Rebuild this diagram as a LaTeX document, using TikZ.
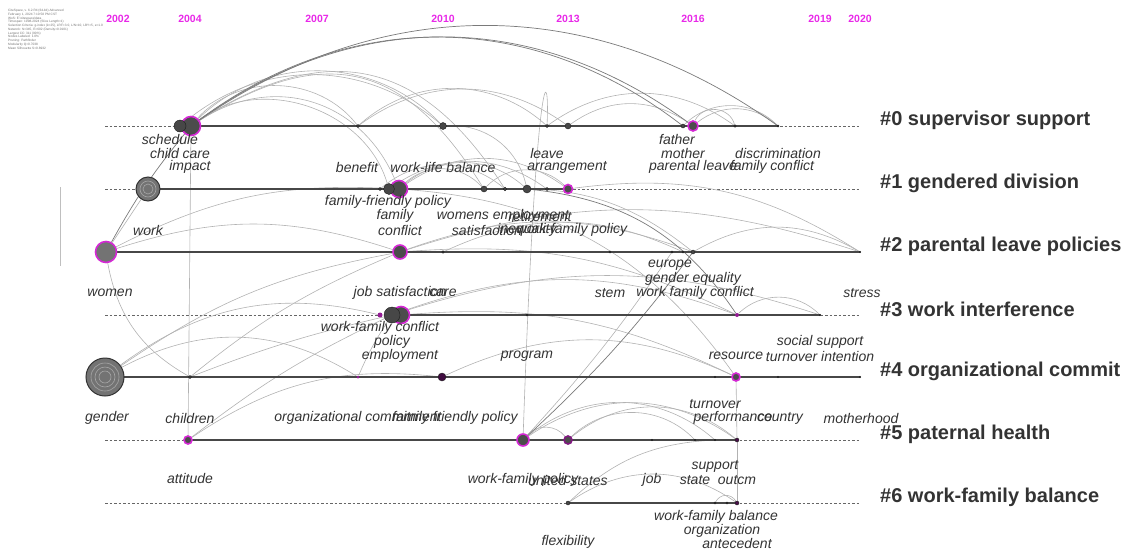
\documentclass[tikz,border=0pt]{standalone}
\usepackage{fontspec}
\setmainfont{Liberation Sans}
\usetikzlibrary{positioning,backgrounds}
\definecolor{hot}{RGB}{212,40,212}
\definecolor{yearc}{RGB}{232,40,232}
\definecolor{ink}{RGB}{51,51,51}
\tikzset{
  kw/.style={circle,inner sep=0pt,minimum size=#1,fill=black!72,draw=black!88,line width=0.4pt},
  hotkw/.style={circle,inner sep=0pt,minimum size=#1,fill=black!70,draw=hot,line width=1.6pt},
  hotdot/.style={circle,inner sep=0pt,minimum size=#1,fill=hot!70!black},
  ringkw/.style={circle,inner sep=0pt,minimum size=#1,fill=black!55,draw=black!80,line width=1pt},
  term/.style={font=\fontsize{14}{14}\selectfont\itshape,text=ink,inner sep=0pt},
  clus/.style={font=\fontsize{20}{20}\selectfont\bfseries,text=ink,anchor=west,inner sep=0pt},
  yr/.style={font=\fontsize{10.5}{10.5}\selectfont\bfseries,text=yearc,inner sep=0pt},
  lnk/.style={draw=black!30,line width=0.6pt},
  lnkd/.style={draw=black!52,line width=0.7pt},
  axis/.style={draw=black!60,dash pattern=on 2.5pt off 2pt,line width=0.6pt},
  span/.style={draw=black!72,line width=2.2pt}
}
\begin{document}
\begin{tikzpicture}[x=1pt,y=-1pt]
\useasboundingbox (0,0) rectangle (1126,549);
% header block
\node[anchor=north west,align=left,inner sep=0pt,text=black!55,font=\fontsize{3.2}{3.75}\selectfont] (info) at (8,9)
  {CiteSpace, v. 6.2.R4 (64-bit) Advanced\\February 1, 2024 7:10:58 PM CST\\WoS: E:\textbackslash citespace\textbackslash data\\Timespan: 1998-2024 (Slice Length=1)\\Selection Criteria: g-index (k=25), LRF=3.0, L/N=10, LBY=5, e=1.0\\Network: N=345, E=602 (Density=0.0101)\\Largest CC: 311 (90\%)\\Nodes Labeled: 1.0\%\\Pruning: Pathfinder\\Modularity Q=0.7038\\Mean Silhouette S=0.8932};
% years
\foreach \yr/\x in {2002/118,2004/190,2007/317,2010/443,2013/568,2016/693,2019/820,2020/860}{
  \node[yr] (y\yr) at (\x,19) {\yr};
}
% clusters
\foreach \r/\y/\t in {0/126/supervisor support,1/189/gendered division,2/252/parental leave policies,3/315/work interference,4/377/organizational commit,5/440/paternal health,6/503/work-family balance}{
  \coordinate (L\r) at (105,\y);
  \coordinate (R\r) at (860,\y);
  \node[clus] (C\r) at (880,\y-6) {\#\r\ \t};
}
% row 0
\node[hotkw=19] (impact) at (191,126) {};
\node[kw=12] (sched) at (180,126) {};
\node[kw=3] (benefit) at (358,126) {};
\node[kw=7] (wlb) at (443,126) {};
\node[kw=3] (leave) at (547,126) {};
\node[kw=6] (arrang) at (568,126) {};
\node[kw=4] (father) at (683,126) {};
\node[hotkw=10] (mother) at (693,126) {};
\node[kw=2.5] (parlv) at (735,126) {};
\node[kw=2] (discr) at (778,126) {};
% row 1
\node[ringkw=24] (work) at (148,189) {};
\node[kw=3] (nfam) at (380,189) {};
\node[hotkw=17] (famc) at (399,189) {};
\node[kw=11] (ffp) at (389,189) {};
\node[kw=6] (womsat) at (484,189) {};
\node[kw=3.5] (womemp) at (505,189) {};
\node[kw=8] (ineq) at (527,189) {};
\node[kw=3] (retire) at (547,189) {};
\node[hotkw=9] (wfpola) at (568,189) {};
% row 2
\node[hotkw=21,fill=black!55] (women) at (106,252) {};
\node[hotkw=14] (jobsat) at (400,252) {};
\node[kw=2.5] (care) at (443,252) {};
\node[kw=2] (stem) at (610,252) {};
\node[kw=2] (europe) at (672,252) {};
\node[kw=2] (gequal) at (683,252) {};
\node[kw=4] (wfconf) at (693,252) {};
\node[kw=1.5] (stress) at (860,252) {};
% row 3
\node[hotdot=5] (wfc) at (380,315) {};
\node[hotkw=17] (employ) at (401,315) {};
\node[kw=16] (policy) at (392,315) {};
\node[kw=2] (program) at (527,315) {};
\node[hotdot=4] (resource) at (737,315) {};
\node[kw=1.5] (turnint) at (820,315) {};
% row 4
\node[ringkw=38] (gender) at (105,377) {};
\node[kw=3] (children) at (190,377) {};
\node[hotdot=3] (orgcom) at (358,377) {};
\node[kw=8,fill=hot!30!black] (famfr) at (442,377) {};
\node[kw=1.5] (turnover) at (715,377) {};
\node[hotkw=8] (perf) at (736,377) {};
\node[kw=1.5] (country) at (778,377) {};
\node[kw=1.5] (mhood) at (860,377) {};
% row 5
\node[hotkw=8] (attitude) at (188,440) {};
\node[hotkw=12] (wfpol) at (523,440) {};
\node[hotkw=8,draw=hot!60!black] (ustates) at (568,440) {};
\node[kw=1.5] (job) at (652,440) {};
\node[kw=1.5] (state) at (695,440) {};
\node[kw=1.5] (support) at (715,440) {};
\node[kw=4,fill=hot!35!black] (outcome) at (737,440) {};
% row 6
\node[kw=4] (flex) at (568,503) {};
\node[kw=2] (wfbal) at (715,503) {};
\node[kw=2] (organiz) at (727,503) {};
\node[kw=4,fill=hot!35!black] (antec) at (737,503) {};
% rings inside the two large grey nodes
\foreach \r in {6,10,14}{\draw[black!35,line width=0.6pt] (gender.center) circle (\r);}
\foreach \r in {5,8}{\draw[black!35,line width=0.6pt] (work.center) circle (\r);}
% terms
\foreach \x/\y/\t in {170/139/schedule,180/153/child care,190/167/impact,357/167/benefit,443/167/work-life balance,
  547/153/leave,567/167/arrangement,677/139/father,683/153/mother,693/167/parental leave,778/153/discrimination,772/167/family conflict,
  388/202/family-friendly policy,395/216/family,400/230/conflict,148/230/work,503/216/womens employment,540/216/retirement,
  487/230/satisfaction,527/230/inequality,572/230/work-family policy,
  110/293/women,400/293/job satisfaction,443/293/care,610/293/stem,670/265/europe,693/279/gender equality,695/293/work family conflict,862/293/stress,
  380/328/work-family conflict,392/342/policy,400/356/employment,527/356/program,736/356/resource,820/342/social support,820/356/turnover intention,
  107/418/gender,190/418/children,358/418/organizational commitment,455/418/family friendly policy,715/404/turnover,733/418/performance,780/418/country,861/418/motherhood,
  190/478/attitude,523/480/work-family policy,568/480/united states,652/480/job,715/466/support,695/480/state,737/480/outcm,
  716/517/work-family balance,722/531/organization,737/543/antecedent,568/542/flexibility}{
  \node[term] (t\x-\y) at (\x,\y) {\t};
}
\coordinate (vt) at (60,187);
\coordinate (vb) at (60,266);
\begin{pgfonlayer}{background}
  \foreach \r in {0,...,6}{
    \draw[axis] (L\r) -- (R\r);
  }
  \draw[draw=black!25,line width=0.6pt] (vt) -- (vb);
  % co-occurrence links
  \foreach \a/\b/\t/\l in {impact/famc/50/1.1,impact/ffp/55/1,impact/benefit/50/1,impact/womsat/45/1.3,impact/womemp/45/1.25,
    impact/wlb/45/1,sched/wlb/40/1,benefit/leave/42/1,benefit/arrang/36/1,wlb/ineq/40/1,leave/parlv/36/1,arrang/mother/35/1,
    mother/parlv/70/1.2,father/discr/45/1,mother/discr/40/1,famc/womsat/45/1,famc/ineq/40/1,famc/wfpola/35/1,ffp/retire/35/1,
    nfam/womemp/40/1,womsat/wfpola/45/1,wfpola/stress/20/1,womemp/wfconf/20/1,women/famc/15/1,women/jobsat/18/1,
    jobsat/wfconf/20/1,jobsat/stress/18/1,care/gequal/25/1,wfconf/stress/30/1,gender/jobsat/12/1,gender/orgcom/30/1,
    gender/wfc/25/1,children/jobsat/8/1,children/policy/4/1,attitude/policy/6/1,attitude/famfr/20/1,orgcom/policy/5/1,
    policy/resource/20/1,policy/turnint/18/1,employ/perf/15/1,famc/perf/25/1,jobsat/resource/15/1,famfr/perf/25/1,
    resource/turnint/45/1,wfpol/ustates/50/1,wfpol/outcome/35/1,wfpol/support/40/1,ustates/outcome/40/1,ustates/state/45/1,
    flex/antec/35/1,flex/support/20/1,wfbal/antec/60/1.2,wfpol/europe/-4/1}{
    \draw[lnk] (\a) to[bend left=\t,looseness=\l] (\b);
  }
  \foreach \a/\b/\t in {impact/discr/35,impact/mother/36,impact/father/37,women/impact/5,wfpol/wfconf/-5,ineq/resource/25}{
    \draw[lnkd] (\a) to[bend left=\t] (\b);
  }
  \foreach \a/\b in {impact/attitude,perf/outcome,outcome/antec,women/work}{
    \draw[lnk] (\a) -- (\b);
  }
  \draw[lnk] (wfpol) .. controls (536,60) and (550,60) .. (leave);
  \draw[lnk] (women) to[bend right=25] (children);
  % active spans
  \foreach \a/\b in {impact/discr,work/wfpola,women/stress,policy/turnint,gender/mhood,attitude/outcome,flex/antec}{
    \draw[span] (\a.center) -- (\b.center);
  }
\end{pgfonlayer}
\end{tikzpicture}
\end{document}
